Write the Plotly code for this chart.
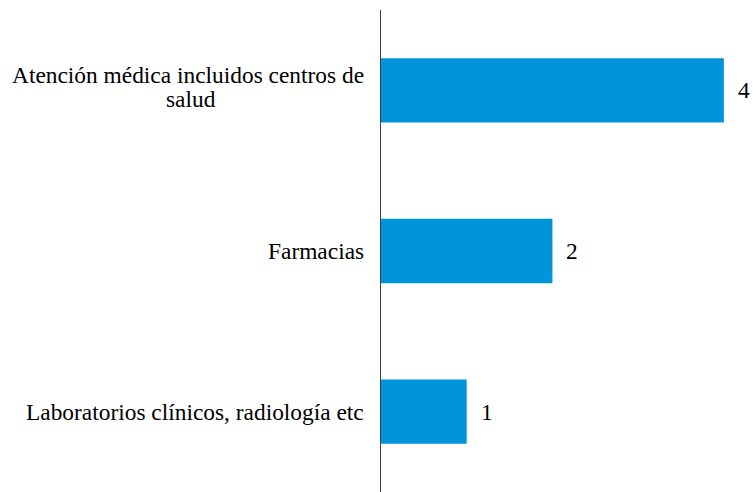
import plotly.graph_objects as go

categories = ["Atención médica incluidos centros de<br>salud", "Farmacias", "Laboratorios clínicos, radiología etc"]
values = [4, 2, 1]

FONT = "Liberation Serif"
FSIZE = 23.4
LABEL_GAP = 15          # px between label right edge and axis line
LINE_STEP = 24          # px between wrapped label lines
FIRST_LINE_CENTER = 190  # px left of axis where wrapped lines are centred

fig = go.Figure()
fig.add_trace(go.Bar(
    x=values, y=list(range(len(categories))), orientation="h",
    marker=dict(color="#0095DA", line=dict(width=0)),
    hoverinfo="skip",
))

annotations = []
for i, (c, v) in enumerate(zip(categories, values)):
    lines = c.split("<br>")
    n = len(lines)
    for k, line in enumerate(lines):
        yshift = ((n - 1) / 2 - k) * LINE_STEP + (3 if n > 1 else 0)
        if k == 0:
            annotations.append(dict(
                x=0, xref="paper", y=i, yref="y", text=line, showarrow=False,
                xanchor="right", yanchor="middle", xshift=-LABEL_GAP, yshift=yshift,
                font=dict(family=FONT, size=FSIZE, color="#000000"),
            ))
        else:
            annotations.append(dict(
                x=0, xref="paper", y=i, yref="y", text=line, showarrow=False,
                xanchor="center", yanchor="middle", xshift=-FIRST_LINE_CENTER, yshift=yshift,
                font=dict(family=FONT, size=FSIZE, color="#000000"),
            ))
    annotations.append(dict(
        x=v, xref="x", y=i, yref="y", text=str(v), showarrow=False,
        xanchor="left", yanchor="middle", xshift=12,
        font=dict(family=FONT, size=FSIZE, color="#000000"),
    ))

fig.update_layout(
    width=753, height=492,
    margin=dict(l=381, r=0, t=10, b=0),
    paper_bgcolor="white", plot_bgcolor="white",
    showlegend=False, bargap=0.6,
    annotations=annotations,
    font=dict(family=FONT),
    xaxis=dict(range=[0, 4.34], showticklabels=False, showgrid=False,
               zeroline=False, showline=False, ticks=""),
    yaxis=dict(range=[2.5, -0.5], showticklabels=False, showgrid=False,
               zeroline=False, showline=True, linecolor="#404040",
               linewidth=1, ticks=""),
)

fig.write_html(
    "out.html",
    config={"displayModeBar": False},
    post_script="document.body.style.margin='0';document.body.style.overflow='hidden';",
)
